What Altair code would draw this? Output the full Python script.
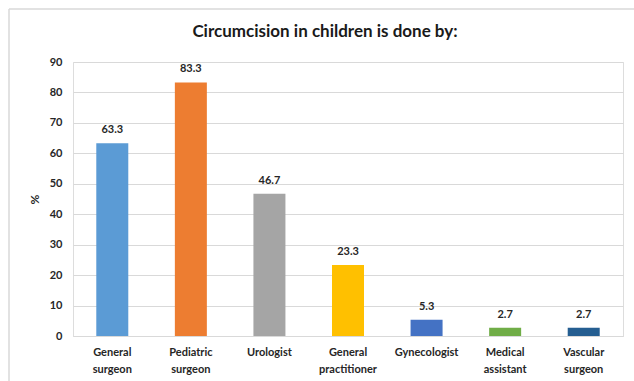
import altair as alt
import pandas as pd

title_text = "Circumcision in children is done by:"
categories = ["General surgeon", "Pediatric surgeon", "Urologist", "General practitioner",
              "Gynecologist", "Medical assistant", "Vascular surgeon"]
values = [63.3, 83.3, 46.7, 23.3, 5.3, 2.7, 2.7]
colors = ["#5B9BD5", "#ED7D31", "#A5A5A5", "#FFC000", "#4472C4", "#70AD47", "#255E91"]
y_ticks = [0, 10, 20, 30, 40, 50, 60, 70, 80, 90]

df = pd.DataFrame({"cat": categories, "val": values, "label": [f"{v:.1f}" for v in values]})
tdf = pd.DataFrame({"t": [title_text]})

FONT = "Lato"

x = alt.X("cat:N", sort=categories, title=None,
          scale=alt.Scale(paddingInner=0.59, paddingOuter=0.295),
          axis=alt.Axis(labelAngle=0, labelExpr="split(datum.label, ' ')",
                        labelFont=FONT, labelFontSize=11, labelFontWeight="bold",
                        labelColor="#262626", labelPadding=10, labelLineHeight=17,
                        ticks=False, domain=True, domainColor="#D9D9D9", grid=False))
y = alt.Y("val:Q", title="%",
          scale=alt.Scale(domain=[0, 90], nice=False),
          axis=alt.Axis(values=y_ticks, tickCount=10, labelFont=FONT, labelFontSize=11,
                        labelFontWeight="bold", labelOverlap=False,
                        labelColor="#262626", labelPadding=11, ticks=False, domain=False,
                        gridColor="#D9D9D9", gridWidth=1,
                        titleFont=FONT, titleFontSize=12, titleFontWeight="bold",
                        titleColor="#262626", titlePadding=8))

bars = alt.Chart(df).mark_bar(size=32).encode(
    x=x, y=y,
    color=alt.Color("cat:N", sort=categories,
                    scale=alt.Scale(domain=categories, range=colors), legend=None))

text = alt.Chart(df).mark_text(dy=-8, baseline="bottom", font=FONT, fontSize=11,
                               fontWeight="bold", color="#262626").encode(
    x=x, y=y, text="label:N")

border_top = alt.Chart(tdf).mark_rule(color="#D9D9D9", strokeWidth=1.5).encode(
    x=alt.value(-64), x2=alt.value(580), y=alt.value(-53))
border_left = alt.Chart(tdf).mark_rule(color="#D9D9D9", strokeWidth=1.5).encode(
    x=alt.value(-64), y=alt.value(-53), y2=alt.value(330))

title = alt.Chart(tdf).mark_text(font=FONT, fontSize=17, fontWeight="bold", color="#1a1a1a",
                                 align="center", baseline="middle").encode(
    text="t:N", x=alt.value(252), y=alt.value(-30))

chart = alt.layer(border_top, border_left, bars, text, title).properties(
    width=550, height=274,
    padding={"left": 73, "top": 62, "right": 11, "bottom": 45},
    autosize=alt.AutoSizeParams(type="none"),
).configure_view(stroke=None).configure(background="white")

chart.save("out.html", embed_options={"renderer": "svg", "actions": False})
